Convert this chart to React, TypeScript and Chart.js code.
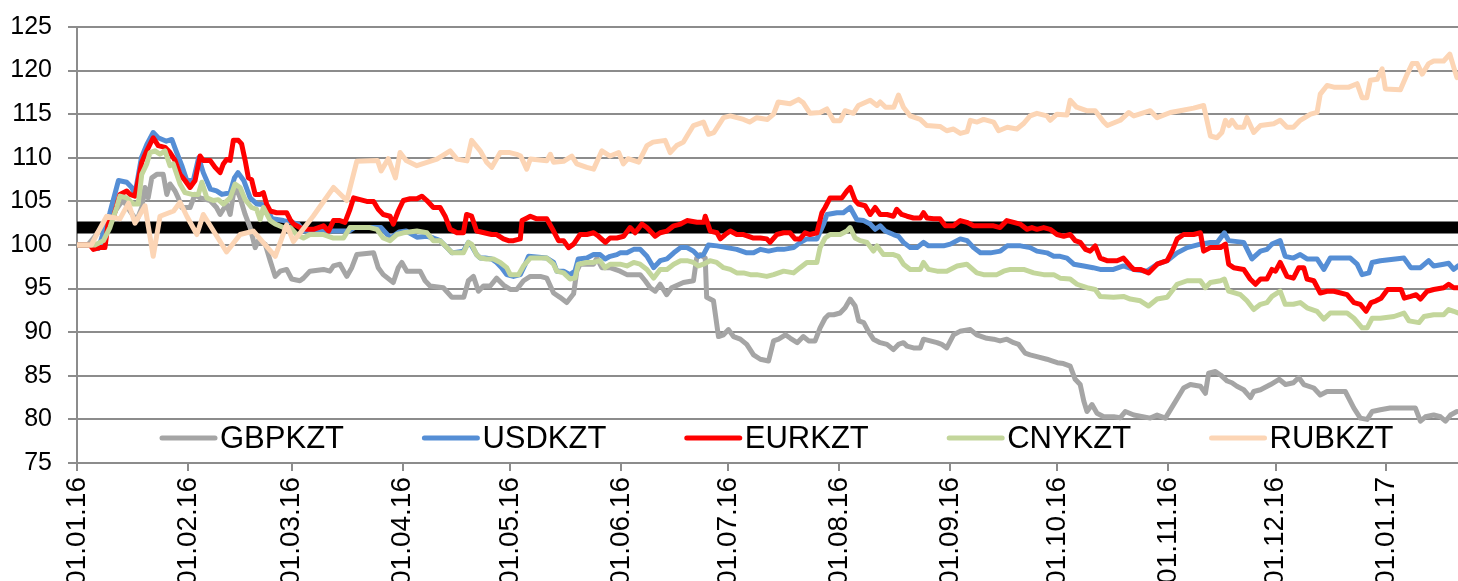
import React, { useEffect, useRef } from "react";
import { Chart, registerables } from "chart.js";

Chart.register(...registerables);

// x values are days since 01.01.16
const MONTH_DAYS = [0, 31, 60, 91, 121, 152, 182, 213, 244, 274, 305, 335, 366];
const MONTH_LABELS = ["01.01.16", "01.02.16", "01.03.16", "01.04.16", "01.05.16", "01.06.16", "01.07.16", "01.08.16", "01.09.16", "01.10.16", "01.11.16", "01.12.16", "01.01.17"];
const X_MAX = 386;

const LEVEL_VALUE = 102;
const LEVEL_DAYS = [0, 386];

const gbpDays = [0, 3, 5, 8, 10, 12, 13, 14.8, 16.7, 18.1, 19, 19.9, 20.9, 22.3, 24.1, 25.1, 26, 27.4, 28.3, 29.3, 31.6, 33, 34.4, 37.2, 39, 40, 41.8, 42.8, 43.7, 44.6, 45.6, 47, 48.4, 49.8, 50.7, 52.6, 54, 55.4, 56.8, 58.6, 60, 62.3, 63.3, 65.1, 68.9, 70.7, 71.7, 73.5, 75.4, 76.8, 78.2, 82.9, 84.2, 85.6, 88.4, 89.8, 90.8, 92.2, 95.9, 97.3, 98.7, 102.4, 104.8, 108.1, 109.4, 110.8, 112.2, 113.6, 115.5, 117.3, 119.2, 121.1, 122.9, 124.8, 126.7, 129.5, 131.3, 133.2, 135, 136.9, 138.8, 139.7, 140.6, 144.4, 145.3, 146.7, 149, 151.8, 153.7, 157.4, 158.8, 160.2, 161.6, 163, 164.8, 166.2, 169.5, 172.3, 173.2, 174.2, 175.6, 176, 177.9, 179.3, 180.7, 182.1, 183.5, 185.4, 187.2, 189.1, 191, 193.3, 194.7, 196.1, 198, 199.4, 201.3, 203, 204.5, 206.3, 207.7, 209.1, 210.1, 211.5, 213.3, 214.7, 216.1, 217.5, 218.5, 219.9, 221.2, 222.6, 224.5, 226.4, 228.2, 229.6, 231, 232, 233.8, 235.7, 236.6, 238.5, 240.4, 241.7, 243.1, 245, 246.8, 249.7, 251.5, 254.3, 256.2, 258, 259.9, 261.8, 263.2, 265, 266.4, 268.3, 271.1, 272.5, 274, 275.7, 277.6, 279, 280.4, 281.4, 282.3, 283.7, 285.1, 287, 289.8, 291.6, 293, 295.4, 300, 301.9, 304.2, 306.5, 309.3, 311.2, 314, 315.4, 316.3, 318.2, 319.6, 321.5, 322.8, 324.2, 326.1, 328, 328.9, 330.8, 333.6, 336, 337.8, 340, 341.5, 342.9, 345.7, 347.5, 349.4, 354.5, 356.9, 358.7, 360.6, 362, 364.3, 367, 370.9, 374.1, 375.5, 376.9, 379.2, 381.1, 382.5, 383.9, 385.7];
const gbpValues = [100, 100, 101, 102.5, 103.5, 104.7, 105.1, 103.9, 102.8, 104.3, 106.6, 105.4, 107.7, 108.1, 108.1, 105.8, 107, 106.2, 105.4, 104.3, 104.3, 105.8, 105.4, 105.1, 104.3, 103.5, 104.7, 103.5, 105.8, 106.4, 105.4, 103.5, 102, 99.7, 100.5, 100.1, 98.2, 96.4, 97, 97.2, 96.1, 95.9, 96.2, 97, 97.2, 97, 97.6, 97.8, 96.4, 97.4, 98.9, 99.1, 97.4, 96.6, 95.7, 97.4, 98, 97, 97, 95.9, 95.3, 95.1, 94, 94, 95.9, 96.4, 94.7, 95.3, 95.3, 96.2, 95.4, 94.9, 94.9, 95.9, 96.4, 96.4, 96.2, 94.5, 94, 93.4, 94.4, 97, 97.8, 97.8, 98.5, 97.4, 97.4, 97, 96.6, 96.6, 95.9, 95.1, 94.7, 95.5, 94.3, 95.1, 95.7, 95.9, 98.5, 98.9, 98.5, 94, 93.6, 89.5, 89.7, 90.3, 89.5, 89.2, 88.6, 87.4, 86.9, 86.7, 89, 89.2, 89.7, 89.3, 88.8, 89.5, 89, 89, 90.5, 91.6, 92, 92, 92.2, 92.8, 93.8, 93, 91.3, 91.1, 90.1, 89.2, 88.8, 88.6, 88, 88.6, 88.8, 88.4, 88.2, 88.2, 89.2, 89, 88.8, 88.6, 88.2, 89.7, 90.1, 90.3, 89.7, 89.3, 89.2, 89, 89.2, 88.8, 88.6, 87.6, 87.4, 87.2, 86.9, 86.7, 86.5, 86.4, 86.1, 84.6, 84, 82.1, 80.9, 81.7, 80.7, 80.3, 80.3, 80.2, 80.9, 80.5, 80.15, 80.5, 80.15, 81.7, 83.6, 84, 83.8, 83, 85.3, 85.5, 85.1, 84.4, 84.2, 83.8, 83.4, 82.5, 83.2, 83.4, 84, 84.6, 84, 84.2, 84.8, 84, 83.6, 82.8, 83.2, 83.2, 81.3, 80.15, 80, 80.9, 81.1, 81.3, 81.3, 81.3, 79.8, 80.3, 80.5, 80.3, 79.8, 80.5, 80.9];

const usdDays = [0, 4, 6, 7.4, 9.2, 11.6, 13.9, 15.3, 16.2, 18, 19.5, 21.3, 22.7, 25, 26.5, 27.5, 29.3, 30.7, 32.5, 34, 35.3, 37.3, 39, 40.5, 42.8, 44, 45, 46.6, 48.4, 50.3, 52.6, 54.5, 57.7, 60, 61.8, 63.3, 72, 76, 77.5, 85, 87.6, 90, 92, 95, 97.8, 99.6, 101.5, 103.4, 104.8, 108, 109.4, 110.3, 111.7, 112.7, 114.1, 115.9, 117.3, 118.7, 120.1, 122, 123.9, 125.3, 126.2, 131.3, 133.2, 134.1, 136, 137.8, 139.2, 140.1, 142.5, 144.4, 146.2, 147.6, 149, 150.9, 151.8, 153.7, 155.6, 157.4, 159.3, 161.2, 163, 164.9, 166.8, 168.7, 170.5, 172.3, 173.7, 175.1, 176.5, 178.9, 181.6, 184.4, 187.2, 189.1, 191, 193.3, 195.6, 197.5, 200.3, 202.2, 204, 206.8, 208.7, 209.6, 212.4, 214.2, 216.1, 218, 219.9, 221.7, 223.1, 224.5, 225.9, 228.2, 229.6, 231, 232.9, 234.8, 236.6, 238, 240.4, 242.2, 244.1, 246.9, 248.8, 250.6, 252.5, 255.3, 258.1, 260, 263.7, 266.4, 268.3, 271.1, 273, 274.8, 276.7, 278.6, 281.4, 284, 286, 289.7, 292.5, 295.4, 299.1, 301.9, 304.7, 307.5, 310.3, 314, 316.8, 318.7, 320.7, 321.9, 326.1, 328.4, 330.8, 332.6, 334, 336.3, 337.7, 340, 341.9, 343.8, 346.6, 348.5, 350.3, 355.9, 357.8, 359.2, 361.1, 362, 364.3, 370.9, 372.8, 375.5, 377.8, 379.2, 382, 383.4, 384.8, 386];
const usdValues = [100, 100, 99.6, 101.5, 103.7, 107.4, 107.2, 106.6, 105.8, 110, 111.5, 112.9, 112.3, 111.9, 112.1, 111, 109.1, 107.4, 107.4, 110, 108.3, 106.4, 106.2, 105.8, 106, 107.7, 108.3, 107.4, 105.4, 104.7, 104.6, 103, 102.8, 102.6, 102.4, 101.6, 101.6, 101.6, 102, 102, 100.8, 101.5, 101.6, 100.9, 101, 100.8, 100.5, 99.7, 99.1, 99.3, 100.3, 99.9, 98.9, 98.5, 98.5, 98.4, 98, 97.4, 96.6, 96.4, 96.6, 97.8, 98.7, 98.5, 98, 97, 97, 96.6, 97, 98.4, 98.5, 98.9, 98.9, 98.4, 98.7, 98.9, 99.1, 99.1, 99.5, 99.5, 98.7, 97.4, 98.2, 98.4, 99.1, 99.7, 99.7, 99.3, 98.7, 98.9, 100, 99.9, 99.7, 99.5, 99.1, 99.1, 99.5, 99.3, 99.5, 99.5, 99.7, 100.3, 100.7, 100.7, 102.4, 103.5, 103.7, 103.7, 104.3, 102.9, 102.8, 102.4, 101.8, 102.2, 101.6, 101.2, 101, 100.3, 99.7, 99.7, 100.3, 99.9, 99.9, 99.9, 100.1, 100.7, 100.5, 99.7, 99.1, 99.1, 99.3, 99.9, 99.9, 99.7, 99.3, 99.1, 98.7, 98.7, 98.5, 97.8, 97.6, 97.4, 97.2, 97.2, 97.6, 97.2, 97, 97.8, 98.2, 99.1, 99.7, 100.1, 100.3, 100.3, 101.4, 100.5, 100.3, 98.4, 99.3, 99.5, 100.1, 100.5, 98.7, 98.5, 98.9, 98.4, 98.4, 97.2, 98.5, 98.5, 97.8, 96.6, 96.8, 98, 98.2, 98.5, 97.4, 97.4, 98.2, 97.6, 97.8, 97.9, 97.2, 97.6];

const eurDays = [0, 3.6, 4.6, 6.4, 7.8, 8.8, 10.2, 12, 13.9, 14.8, 16.2, 18.1, 19.5, 21.3, 22.7, 24.6, 26, 27.4, 28.8, 30.2, 31.6, 33, 34.4, 35.3, 37.2, 38.6, 40, 40.9, 41.8, 42.8, 43.7, 45.1, 46, 47, 47.9, 48.8, 49.8, 51.2, 52.1, 53, 54, 55.8, 58.6, 59.6, 60.5, 62.3, 64.2, 66.1, 68.9, 70.3, 71.7, 73.5, 74.9, 76.3, 77.3, 81, 82.9, 84.2, 85.6, 87.5, 88.4, 89.8, 91.2, 93.1, 95, 96.4, 97.8, 99.6, 101.5, 102.9, 104.3, 106.2, 108, 108.9, 110.3, 111.7, 115.9, 117.3, 119.2, 120.6, 122, 123.9, 124.4, 125.8, 126.7, 128.5, 131.3, 133.2, 134.6, 136, 137.4, 138.8, 140.6, 142.5, 144.4, 145.8, 147.7, 149, 150.9, 152.8, 154.6, 156, 157.9, 159.3, 161.6, 163, 164.9, 166.8, 168.7, 170.5, 173.3, 175.2, 175.6, 177, 178.9, 179.8, 181.2, 182.6, 184.4, 186.3, 189.1, 191, 192.8, 193.7, 195.6, 197.5, 199.3, 200.7, 202.1, 203.5, 204.9, 206.8, 208.2, 209.1, 210.5, 212.4, 213.8, 215.2, 216.1, 217.5, 218.4, 220.3, 221.7, 223.1, 224.5, 226.4, 228.2, 229.1, 230.5, 232, 233.8, 235.7, 236.6, 237.6, 239.4, 241.2, 242.7, 245, 246.9, 248.7, 250.6, 253.4, 256.2, 258, 259.9, 261.8, 263.6, 265.5, 266.9, 268.3, 270.2, 272, 273.9, 275.8, 277.6, 279, 280.4, 281.9, 283.2, 284.6, 286, 287.9, 290.7, 292.5, 294.4, 295.4, 297.2, 299.5, 301.9, 304.7, 306.1, 307.5, 309.3, 312.1, 314, 314.9, 316.8, 319.6, 321, 321.9, 323.3, 326.1, 327.9, 329.4, 330.8, 332.6, 334, 335, 336.3, 338.2, 340, 341.5, 342.9, 343.8, 345.7, 347.5, 349.4, 351.3, 355, 356.9, 358.7, 360.3, 361.7, 363.1, 364.5, 366.3, 368.2, 370.1, 371, 372.8, 374.3, 375.5, 377.4, 379.2, 382, 383.4, 384.8, 386];
const eurValues = [100, 100, 99.5, 99.7, 99.7, 102.8, 103.2, 105.8, 106.2, 105.8, 105.6, 109.5, 110.8, 112.3, 111.4, 111.2, 110.6, 109.7, 108.1, 107.4, 106.6, 107.4, 110.2, 109.7, 109.7, 108.9, 108.3, 109.3, 109.8, 109.7, 112, 112, 111.6, 109.7, 107.7, 107.5, 105.8, 105.8, 106, 104.7, 103.9, 103.7, 103.7, 102.9, 102.4, 102, 101.8, 101.8, 102.2, 101.6, 102.8, 102.8, 102.6, 104.1, 105.4, 105, 105, 104.1, 103.5, 103.3, 102.4, 103.9, 105.1, 105.3, 105.3, 105.6, 105.1, 104.3, 104.3, 103.3, 101.8, 101.4, 101.4, 103.5, 103.3, 101.6, 101.2, 101.2, 100.7, 100.5, 100.5, 100.7, 102.8, 103.1, 103.3, 103, 103, 101.6, 100.5, 100.5, 99.7, 100.1, 101.2, 101.2, 101.4, 101, 100.3, 100.8, 100.8, 101, 102, 101.4, 102.4, 102, 101, 101.4, 101.6, 102.2, 102.4, 102.8, 102.6, 102.6, 103.3, 101.6, 101.4, 100.7, 101.2, 101.6, 101.2, 101.2, 100.8, 100.8, 100.7, 100.3, 101.2, 101.4, 101.4, 100.7, 100.7, 101.4, 101.2, 101.4, 103.7, 104.3, 105.4, 105.4, 105.4, 106.2, 106.6, 105.1, 104.7, 104.5, 103.5, 104.3, 103.5, 103.5, 103.3, 104.1, 103.5, 103.3, 103.1, 103.1, 103.7, 103.1, 103, 103, 102.2, 102.2, 102.8, 102.6, 102.2, 102.2, 102.2, 102, 102.8, 102.6, 102.4, 101.8, 102, 101.8, 102, 101.8, 101.2, 101, 101.2, 100.5, 100.3, 99.5, 99.3, 99.9, 98.5, 98.2, 98.2, 98.5, 97.6, 97.2, 97.2, 96.8, 97.8, 98.2, 99.3, 100.7, 101.2, 101.2, 101.4, 99.3, 99.7, 99.7, 100.1, 97.8, 97.4, 97.2, 96.1, 95.5, 96.1, 96.1, 97.2, 97, 98, 96.4, 96.2, 97.4, 97.4, 96.1, 95.9, 94.5, 94.7, 94.7, 94.3, 93.4, 93.2, 92.4, 93.4, 93.6, 93.9, 94.9, 94.9, 94.9, 93.9, 94.1, 94.3, 93.8, 94.7, 94.9, 95.1, 95.5, 95.1, 95.1];

const cnyDays = [0, 5, 7.4, 9.2, 11.1, 12, 13.9, 15.8, 17.1, 18.1, 19.5, 20.4, 21.8, 23.2, 24.6, 26, 26.9, 28.8, 30.2, 32.1, 33.9, 34.9, 36.3, 38.1, 39.5, 40.9, 42.8, 44.2, 45.6, 47, 48.8, 50.2, 51.2, 52.1, 54, 55.4, 57.7, 59.6, 61.4, 63.3, 65.1, 68.9, 71.7, 74.5, 76.3, 81.9, 83.8, 85.6, 87.5, 89.4, 91.2, 95, 97.8, 99.6, 101.5, 103.4, 104.8, 108, 109.4, 110.3, 111.7, 112.7, 114.5, 116.4, 118.3, 120.1, 121.1, 123.4, 124.8, 126.7, 131.3, 133.2, 134.1, 136, 137.8, 139.2, 140.1, 142.5, 144.4, 146.2, 147.6, 149, 151.8, 153.7, 155.6, 157.4, 159.3, 161.2, 163, 164.9, 166.8, 168.7, 170.5, 172.3, 173.7, 175.1, 176.9, 178.8, 180.7, 182.6, 184.4, 186.3, 188.2, 190, 192.8, 194.7, 197.5, 200.3, 202.1, 204, 206.8, 207.7, 209.1, 210.5, 213.3, 215.2, 216.1, 217.5, 218.9, 220.8, 222.6, 223.6, 225.4, 228.2, 229.6, 231, 232.9, 235.7, 236.6, 238, 240.4, 243.1, 246, 248.7, 251.5, 253.4, 257.1, 259, 260.9, 264.6, 267.4, 270.2, 273, 274.8, 277.6, 279.5, 282.3, 284.6, 286, 289.7, 292.5, 294.4, 297.2, 299.5, 301.9, 304.7, 307.5, 310.3, 314, 315.4, 316.8, 319.6, 320.7, 321.9, 325.2, 327, 328.9, 330.8, 332.6, 334, 336.3, 337.7, 340, 341.9, 343.8, 346.6, 348.5, 350.3, 355, 356.9, 359.2, 360.6, 362, 364.3, 368.1, 370.9, 372.3, 375.1, 376.5, 379.2, 382, 383.4, 384.8, 386];
const cnyValues = [100, 100, 100.5, 102, 104.3, 105.6, 105.4, 104.7, 104.7, 108.1, 109.3, 110.6, 110.8, 110.4, 110.8, 109.1, 109.3, 107, 106, 105.8, 105.8, 107.2, 105.4, 105.1, 105.2, 104.7, 105.4, 107, 106.6, 105.2, 104.3, 104.1, 102.9, 104.3, 102.8, 102.4, 102, 102, 101.2, 100.8, 101.2, 101.2, 100.8, 100.8, 102, 102, 101.8, 100.8, 100.5, 101.2, 101.4, 101.6, 101.4, 100.5, 100.5, 99.7, 99.1, 99.1, 100.3, 100.1, 98.9, 98.5, 98.4, 98.4, 98, 97.4, 96.6, 96.6, 97.6, 98.5, 98.5, 97.8, 97, 96.8, 96.1, 96.2, 97.8, 98, 98, 98.2, 97.4, 97.8, 97.8, 97.6, 98, 97.8, 97.2, 96.2, 97.2, 97.2, 97.8, 98.2, 98.2, 98, 97.6, 97.8, 98.2, 98, 97.4, 97.2, 96.8, 96.8, 96.6, 96.6, 96.4, 96.6, 97, 96.8, 97.4, 98, 98, 99.7, 100.8, 101.2, 101.2, 101.6, 102, 100.8, 100.5, 100.3, 99.3, 99.9, 98.9, 98.9, 98.7, 97.8, 97.2, 97.2, 98, 97.2, 97, 97, 97.6, 97.8, 96.8, 96.6, 96.6, 97, 97.2, 97.2, 96.8, 96.6, 96.6, 96.2, 96.1, 95.5, 95.1, 94.9, 94.1, 94, 94.1, 93.8, 93.6, 93, 93.8, 94, 95.5, 95.9, 95.9, 95.1, 95.7, 95.9, 96.1, 94.7, 94.3, 93.6, 92.6, 93.2, 93.4, 94.1, 94.7, 93.2, 93.2, 93.4, 92.8, 92.4, 91.5, 92.2, 92.2, 91.6, 90.5, 90.5, 91.6, 91.6, 91.8, 92.2, 91.3, 91.1, 91.8, 92, 92, 92.6, 92.4, 92.2];

const rubDays = [0, 4, 5.5, 8.3, 12, 14.4, 16.2, 19, 21.3, 23.2, 27, 28.8, 30.7, 33.5, 35.3, 40, 41.8, 45.6, 49.3, 55.4, 58.6, 60.5, 66, 71.7, 75.4, 78.2, 84, 85, 87, 89, 90.3, 92, 95, 98, 100.6, 104.3, 106.2, 109, 110.3, 112.7, 114.5, 115.9, 118.3, 121, 122.9, 124, 125.7, 126.7, 131.3, 132.3, 133.2, 136, 138.3, 139.7, 142.5, 144.4, 146.7, 149, 151.4, 152.7, 154, 157, 159.3, 161, 164.4, 165.8, 167.6, 169.5, 170.5, 172.3, 175.1, 176.5, 178, 180.7, 182.6, 186.3, 188, 190, 193, 194.7, 196, 199.3, 201.7, 203, 204.9, 207.7, 209.6, 211.5, 213.3, 214.7, 217, 218.4, 221.7, 223.6, 224.5, 226, 228.3, 229.6, 231, 232.9, 235.7, 237.5, 241.2, 243.1, 245, 246.9, 248.8, 249.7, 251.6, 253.4, 256.2, 257.6, 260, 262.7, 264.5, 266.4, 268.3, 271.1, 272, 273.9, 276.7, 277.6, 279.4, 282.2, 284.6, 287, 288, 291.6, 294, 295.4, 300, 301.9, 305.6, 308.3, 312.1, 314.9, 316.8, 318.6, 320, 321, 322, 322.8, 324.2, 326.1, 327, 328.9, 330.8, 334.5, 336.3, 338.2, 340, 341.9, 344.8, 346.6, 347.5, 349.4, 351.3, 355.5, 357.8, 359.2, 360.5, 361.5, 363.4, 364.8, 365.7, 369.9, 371.8, 373.2, 374.6, 376, 377.8, 379.2, 382, 383.7, 384.8, 385.7];
const rubValues = [100, 100, 101.2, 103.3, 103, 104.8, 102.5, 104.5, 98.7, 103.3, 103.9, 104.9, 103.3, 101.2, 103.5, 100.4, 99.2, 101.2, 101.6, 98.7, 102.3, 100.4, 103.3, 106.6, 105.1, 109.6, 109.7, 108.5, 109.9, 107.7, 110.6, 109.7, 109.1, 109.5, 109.85, 110.8, 109.85, 109.65, 112, 110.8, 109.5, 108.9, 110.6, 110.6, 110.4, 110.2, 108.7, 109.85, 109.65, 110.4, 109.5, 109.6, 110.2, 109.3, 108.9, 108.7, 110.8, 110.2, 110.6, 109.3, 109.9, 109.5, 111.4, 111.8, 112, 110.6, 111.4, 111.8, 112.5, 113.7, 114.1, 112.7, 112.9, 114.6, 114.8, 114.4, 114.1, 114.6, 114.4, 115, 116.4, 116.2, 116.7, 116.3, 115.1, 115.2, 115.6, 114.25, 114.25, 115.4, 115.1, 116, 116.6, 116, 116.4, 115.8, 115.8, 117.2, 115.8, 114.8, 114.4, 113.7, 113.6, 113.1, 113.3, 112.8, 113, 114.3, 114.1, 114.4, 114.1, 113.1, 113.5, 113.3, 113.9, 114.8, 115.1, 114.8, 114.3, 115, 114.9, 116.6, 115.8, 115.4, 115.4, 114.1, 113.7, 114.3, 115.2, 114.8, 115.4, 114.6, 115.2, 115.4, 115.7, 116, 112.5, 112.3, 112.9, 114.3, 113.7, 114.3, 113.5, 113.5, 114.6, 112.9, 113.7, 113.9, 114.3, 113.5, 113.5, 114.3, 115, 115.2, 117.3, 118.3, 118.1, 118.1, 118.5, 116.9, 116.9, 118.9, 119, 120.2, 117.9, 117.8, 119.6, 120.8, 120.8, 119.6, 120.8, 121.1, 121.1, 121.9, 120.4, 119.2];

const SERIES = [
  { label: "GBPKZT", days: gbpDays, values: gbpValues, color: "#A5A5A5", order: 5 },
  { label: "USDKZT", days: usdDays, values: usdValues, color: "#558ED5", order: 4 },
  { label: "EURKZT", days: eurDays, values: eurValues, color: "#FF0000", order: 3 },
  { label: "CNYKZT", days: cnyDays, values: cnyValues, color: "#C3D69B", order: 2 },
  { label: "RUBKZT", days: rubDays, values: rubValues, color: "#FCD5B5", order: 1 },
];

const FONT = '"Liberation Sans", Arial, sans-serif';
const GRID = "#8c8c8c";

const insideLegend = {
  id: "insideLegend",
  afterDatasetsDraw(chart: any) {
    const { ctx, chartArea } = chart;
    ctx.save();
    ctx.font = `31px ${FONT}`;
    ctx.textBaseline = "middle";
    ctx.textAlign = "left";
    const y = chartArea.bottom - 25;
    const step = (chartArea.right - chartArea.left) * 0.19;
    SERIES.forEach((s, i) => {
      const x0 = chartArea.left + 85 + i * step;
      ctx.strokeStyle = s.color;
      ctx.lineWidth = 5;
      ctx.lineCap = "round";
      ctx.beginPath();
      ctx.moveTo(x0, y);
      ctx.lineTo(x0 + 53, y);
      ctx.stroke();
      ctx.fillStyle = "#000";
      ctx.fillText(s.label, x0 + 58, y + 1);
    });
    ctx.restore();
  },
};

export default function App() {
  const ref = useRef<HTMLCanvasElement | null>(null);

  useEffect(() => {
    if (!ref.current) return;
    const datasets: any[] = SERIES.map((s) => ({
      label: s.label,
      data: s.days.map((d, i) => ({ x: d, y: s.values[i] })),
      borderColor: s.color,
      backgroundColor: s.color,
      borderWidth: 5,
      pointRadius: 0,
      tension: 0,
      fill: false,
      borderJoinStyle: "round",
      borderCapStyle: "round",
      order: s.order,
    }));
    datasets.push({
      label: "level",
      data: LEVEL_DAYS.map((d) => ({ x: d, y: LEVEL_VALUE })),
      borderColor: "#000",
      backgroundColor: "#000",
      borderWidth: 12,
      pointRadius: 0,
      tension: 0,
      fill: false,
      borderCapStyle: "butt",
      order: 10,
    });

    const chart = new Chart(ref.current, {
      type: "line",
      data: { datasets },
      plugins: [insideLegend],
      options: {
        responsive: false,
        animation: false,
        events: [],
        layout: { padding: { top: 27, left: 0, right: 0, bottom: 0 } },
        plugins: {
          legend: { display: false },
          tooltip: { enabled: false },
          title: { display: false },
        },
        scales: {
          x: {
            type: "linear",
            min: 0,
            max: X_MAX,
            afterBuildTicks: (scale: any) => {
              scale.ticks = MONTH_DAYS.map((v) => ({ value: v }));
            },
            afterFit: (scale: any) => {
              scale.height = 600 - 463;
              scale.paddingLeft = 0;
              scale.paddingRight = 0;
            },
            grid: {
              drawOnChartArea: false,
              drawTicks: true,
              tickLength: 8,
              color: GRID,
              lineWidth: 2,
            },
            border: { display: true, color: GRID, width: 2 },
            ticks: {
              autoSkip: false,
              maxRotation: 90,
              minRotation: 90,
              padding: 6,
              color: "#000",
              font: { family: FONT, size: 28 },
              callback: (value: any) => {
                const i = MONTH_DAYS.indexOf(Number(value));
                return i >= 0 ? MONTH_LABELS[i] : "";
              },
            },
          },
          y: {
            min: 75,
            max: 125,
            afterFit: (scale: any) => {
              scale.width = 77;
              scale.paddingTop = 0;
              scale.paddingBottom = 0;
            },
            grid: {
              color: GRID,
              lineWidth: 2,
              tickLength: 9,
              drawTicks: true,
            },
            border: { display: true, color: GRID, width: 2 },
            ticks: {
              stepSize: 5,
              padding: 16,
              color: "#000",
              font: { family: FONT, size: 25 },
            },
          },
        },
      },
    });
    return () => chart.destroy();
  }, []);

  return (
    <div
      style={{
        position: "fixed",
        left: 0,
        top: 0,
        width: 1458,
        height: 581,
        overflow: "hidden",
        background: "#fff",
      }}
    >
      <canvas ref={ref} width={1458} height={600} style={{ display: "block" }} />
    </div>
  );
}
